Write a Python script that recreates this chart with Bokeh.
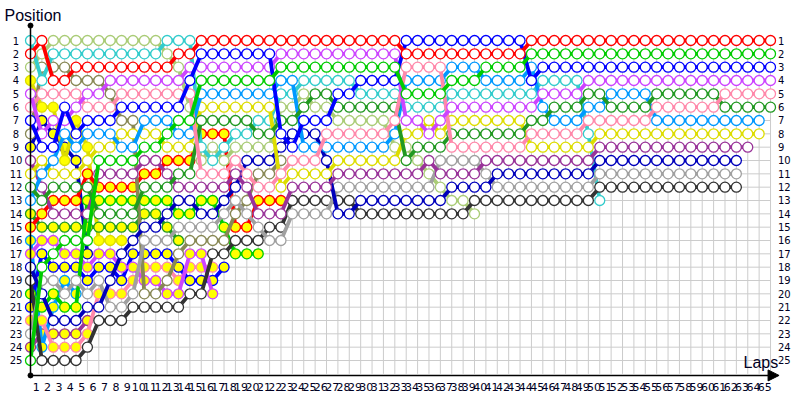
from bokeh.plotting import figure
from bokeh.models import Range1d, Arrow, NormalHead
from bokeh.embed import file_html
from bokeh.resources import INLINE
from bokeh.core.properties import value

laps = list(range(66))                 # lap 0 = starting grid
x_labels = [str(k) for k in range(1, 66)]
y_labels = [str(k) for k in range(1, 26)]

# ---- positions per lap (index = lap), list ends when the car stops ----
red1 = [2,1,4,4,3,3,3,3,3,3, 3,3,3,2,2,1,1,1,1,1, 1,1,1,1,1,1,1,1,1,1,
        1,1,1,2,2,2,2,2,2,2, 2,2,2,2,1,1,1,1,1,1, 1,1,1,1,1,1,1,1,1,1, 1,1,1,1,1,1]
cyan1 = [1,4,2,2,2,2,2,2,2,2, 2,2,1,1,1,9,10,9,8,8, 7,7,5,5,4,4,4,4,4,5,
         5,5,5,6,6,6,6,5,5,5, 5,5,5,5,5,4,4,4,4,8, 13]
lgreen1 = [3,2,1,1,1,1,1,1,1,1, 1,1,2,3,6,10,9,10,9,9, 9,9,6,6,5,6,6,7,7,7,
           7,7,9,9,10,11,12,13,13,14]
olive1 = [8,3,3,3,4,4,4,5,7,7, 20,20,19,17,16,16,16,16,14,13, 11,11,10]
violet1 = [5,8,7,7,6,5,5,4,4,4, 4,4,4,4,3,3,3,3,3,3, 3,3,2,2,2,2,2,2,2,2,
           2,2,2,7,7,8,7,6,6,6, 6,6,6,6,6,5,5,5,5,4, 4,4,4,4,4,4,4,4,4,4, 4,4,4,4,4,4]
pink1 = [6,5,5,5,5,6,6,6,5,5, 5,5,5,5,5,11,11,11,10,11, 12,12,11,10,10,10,8,8,8,8,
         8,8,7,3,3,3,3,9,9,9, 9,9,9,9,8,8,8,8,8,7, 7,7,7,7,7,6,6,6,6,6, 6,5,5,5,5,5]
blue1 = [7,9,9,6,8,7,7,7,6,6, 6,6,6,6,4,2,2,2,2,2, 2,2,8,9,7,7,7,5,5,4,
         4,4,4,1,1,1,1,1,1,1, 1,1,1,1,4,3,3,3,3,3, 3,3,3,3,3,3,3,3,3,3, 3,3,3,3,3,3]
lblue1 = [13,11,10,8,9,8,8,8,9,9, 7,7,7,8,8,5,5,5,5,5, 5,5,4,4,9,9,9,9,9,9,
          9,9,8,4,4,4,4,3,3,3, 4,4,4,4,3,6,7,7,7,6, 6,5,5,5,5,7,7,7,7,7, 7,7,7,7,7]
yellow1 = [11,10,11,11,11,10,9,9,8,8, 8,8,9,9,9,6,6,6,6,6, 6,6,12,11,11,11,11,10,10,10,
           10,10,10,8,8,7,8,7,7,7, 7,7,7,7,9,9,9,9,9,9, 8,8,8,8,8,8,8,8,8,8, 8,8,8,8,8]
green1 = [25,18,17,16,16,16,10,10,10,10, 9,9,8,7,7,4,4,4,4,4, 4,4,3,3,3,3,3,3,3,3,
          3,3,3,5,5,5,5,4,4,4, 3,3,3,3,2,2,2,2,2,2, 2,2,2,2,2,2,2,2,2,2, 2,2,2,2,2,2]
dgreen1 = [12,13,12,12,12,12,14,14,14,14, 12,12,12,11,11,7,7,7,7,7, 8,8,7,7,6,5,5,6,6,6,
           6,6,6,10,9,9,9,8,8,8, 8,8,8,8,7,7,6,6,6,5, 5,6,6,6,6,5,5,5,5,5, 5,6,6,6,6,6]
purple1 = [10,12,14,14,14,14,11,11,11,11, 10,10,11,12,12,12,12,12,11,12, 14,14,14,12,12,12,12,11,11,11,
           11,11,11,11,11,10,11,11,11,11, 10,10,10,10,10,10,10,10,10,10, 9,9,9,9,9,9,9,9,9,9, 9,9,9,9]
grey1 = [23,19,19,20,19,20,19,21,21,20, 16,16,16,15,15,15,15,14,13,14, 15,16,16,14,14,14,14,12,12,12,
         12,12,12,12,12,12,10,10,10,10, 11,12,12,12,12,12,12,12,12,12, 11,11,11,11,11,11,11,11,11,11, 11,11,11]
black1 = [19,25,25,25,25,24,22,22,22,21, 21,21,21,21,20,20,17,17,16,16, 16,15,15,13,13,13,13,13,13,14,
          14,14,14,14,14,14,14,14,14,13, 13,13,13,13,13,13,13,13,13,13, 12,12,12,12,12,12,12,12,12,12, 12,12,12]
dblue1 = [18,20,22,22,22,21,21,19,17,16, 15,15,14,13,13,14,14,13,12,10, 10,10,9,8,8,8,10,14,14,13,
          13,13,13,13,13,13,13,12,12,12, 12,11,11,11,11,11,11,11,11,11, 10,10,10,10,10,10,10,10,10,10, 10,10,10]
red2 = [15,14,13,13,13,11,12,12,12,12, 11,11,10,10,10,8,8,8,15,15, 13,13,13]
green2 = [20,21,20,21,21,13,13,13,13,13, 13,13,13,14,14,13,13,15,17,17, 17]
dgreen2 = [14,15,15,15,15,15,15,15,15,15, 14,14,15,16]
yellow2 = [4,6,6,10,7,9,16,16,16]
lblue2 = [16,24,21,19,20]
violet2 = [17,16,16,17,17,18,17,17,18,18, 19,19,20,20,17,17,20]
blue2 = [21,17,18,18,18,19,18,18,19,17, 17,17,17,18,19,19,19,18]
pink2 = [22,22,24,24,24,23,20,20,20,19, 18,18,18,19,18,18,18]
purple2 = [24,23,23,23,23,22]
dblue2 = [9,7,8,9,10,17]

WHITE, YEL = "#ffffff", "#ffff00"
drivers = [
    (purple2, "#993399", YEL), (dblue2, "#0000bb", YEL), (lblue2, "#0099ff", YEL),
    (yellow2, "#dddd00", YEL), (dgreen2, "#229922", YEL), (pink2, "#ff88aa", YEL),
    (blue2, "#0000ff", YEL), (violet2, "#cc44ff", YEL), (green2, "#00cc00", YEL),
    (red2, "#ff0000", YEL),
    (olive1, "#888855", WHITE), (lgreen1, "#aacc77", WHITE), (cyan1, "#33cccc", WHITE),
    (black1, "#333333", WHITE), (grey1, "#a0a0a0", WHITE), (dblue1, "#0000bb", WHITE),
    (purple1, "#993399", WHITE), (yellow1, "#dddd00", WHITE), (lblue1, "#0099ff", WHITE),
    (dgreen1, "#229922", WHITE), (pink1, "#ff88aa", WHITE), (violet1, "#cc44ff", WHITE),
    (blue1, "#0000ff", WHITE), (green1, "#00cc00", WHITE), (red1, "#ff0000", WHITE),
]

W, H = 792, 392
DX, DY = 11.385, 13.333
p = figure(width=W, height=H, output_backend="svg", toolbar_location=None,
           x_range=Range1d(-30 / DX, (W - 30) / DX),
           y_range=Range1d(1 + (H - 40) / DY, 1 - 40 / DY),
           min_border=0, min_border_left=0, min_border_right=0,
           min_border_top=0, min_border_bottom=0)
p.axis.visible = False
p.grid.visible = False
p.outline_line_color = None

# grid
p.segment(x0=laps, y0=[1] * 66, x1=laps, y1=[26] * 66, line_color="#cccccc", line_width=1)
rows = list(range(1, 26))
p.segment(x0=[0] * 25, y0=rows, x1=[65] * 25, y1=rows, line_color="#cccccc", line_width=1)

for pos, col, fill in drivers:
    xs = list(range(len(pos)))
    p.line(xs, pos, line_color=col, line_width=3.8)
    p.scatter(xs, pos, size=10, fill_color=fill, line_color=col, line_width=1.3)

# axes
p.segment(x0=[0], y0=[-0.12], x1=[0], y1=[26.12], line_color="black", line_width=1.5)
p.scatter([0, 0], [-0.12, 26.12], size=5, color="black")
p.add_layout(Arrow(end=NormalHead(size=11, fill_color="black", line_color="black"),
                   x_start=0, y_start=26.12, x_end=65.75, y_end=26.12,
                   line_color="black", line_width=1.5))

font = value("DejaVu Sans")
p.text(x=[-1.27] * 25, y=rows, text=y_labels, text_align="center", text_baseline="middle",
       text_font=font, text_font_size="10px", text_color="#000022")
p.text(x=[65.65] * 25, y=rows, text=y_labels, text_align="left", text_baseline="middle",
       text_font=font, text_font_size="10px", text_color="#000022")
p.text(x=[k - 0.5 for k in range(1, 66)], y=[1 + 346 / DY] * 65, text=x_labels,
       text_align="center", text_baseline="middle", text_font=font,
       text_font_size="11px", text_color="#000022")
p.text(x=[-2.28], y=[1 - 25 / DY], text=["Position"], text_align="left",
       text_baseline="middle", text_font=value("Liberation Sans"),
       text_font_size="16px", text_color="#000022")
p.text(x=[62.63], y=[1 + 322 / DY], text=["Laps"], text_align="left",
       text_baseline="middle", text_font=value("Liberation Sans"),
       text_font_size="16px", text_color="#000022")

open("out.html", "w").write(file_html(p, INLINE))
